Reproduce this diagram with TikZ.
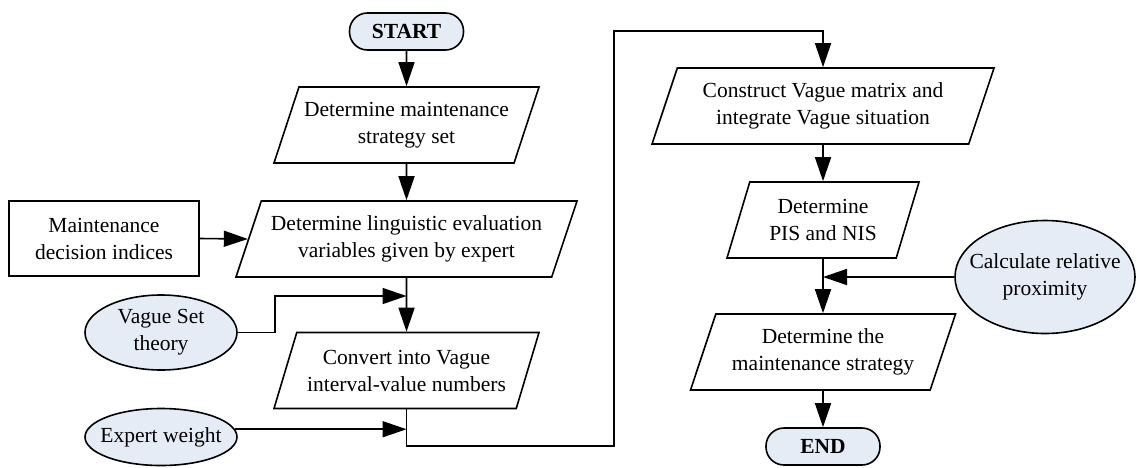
\documentclass[tikz,border=0pt]{standalone}
\usepackage{fontspec}
\setmainfont{Liberation Serif}
\usetikzlibrary{shapes.geometric,arrows.meta}
\definecolor{paleblue}{HTML}{E6ECF6}

\begin{document}
\begin{tikzpicture}[
        x=1pt, y=-1pt,
        font=\fontsize{21.5}{27}\selectfont,
        every node/.style={align=center},
        base/.style={draw=black, line width=1.6pt},
        term/.style={base, rectangle, rounded corners=18pt, fill=paleblue, minimum width=114pt, minimum height=37pt, font=\fontsize{21.5}{27}\selectfont\bfseries},
        proc/.style={base, trapezium, trapezium left angle=63.4, trapezium right angle=116.6, trapezium stretches body, minimum height=76pt, inner sep=2pt},
        plainbox/.style={base, rectangle, minimum width=190pt, minimum height=75pt},
        oval/.style={base, ellipse, fill=paleblue, inner sep=0pt},
        arrow/.style={line width=1.6pt, -{Triangle[length=24pt,width=16pt]}}
    ]
    \useasboundingbox (0,0) rectangle (1137,467);

    % Left column
    \node[term] (start) at (406.5,31.5) {START};
    \node[proc, minimum width=265pt] (b1) at (406.5,125) {Determine maintenance\\strategy set};
    \node[proc, minimum width=341pt] (b2) at (406.5,239) {Determine linguistic evaluation\\variables given by expert};
    \node[proc, minimum width=265pt] (b3) at (406.5,370.5) {Convert into Vague\\interval-value numbers};

    % Inputs
    \node[plainbox] (mdi) at (104,238.5) {Maintenance\\decision indices};
    \node[oval, minimum width=152pt, minimum height=75pt, label={[align=center]center:Vague Set\\theory}] (vst) at (161,332.5) {};
    \node[oval, minimum width=152pt, minimum height=57pt, label={center:Expert weight}] (ew) at (161,437) {};

    % Right column
    \node[proc, minimum width=342pt] (b4) at (823,106) {Construct Vague matrix and\\integrate Vague situation};
    \node[proc, minimum width=192pt] (b5) at (823,220) {Determine\\PIS and NIS};
    \node[oval, minimum width=180pt, minimum height=113pt, label={[align=center]center:Calculate relative\\proximity}] (calc) at (1045,277) {};
    \node[proc, minimum width=265pt] (b6) at (823,352) {Determine the\\maintenance strategy};
    \node[term] (end) at (823,446.5) {END};

    \coordinate (mergeA) at (406.5,296);
    \coordinate (turnA) at (614,446);
    \coordinate (turnB) at (614,31);

    % Connectors
    \draw[arrow] (start) -- (b1);
    \draw[arrow] (b1) -- (b2);
    \draw[arrow] (mdi.east) -- (b2.west);
    \draw[arrow] (b2) -- (b3);
    \draw[arrow] (vst.east) -- ++(37,0) |- (mergeA);
    \draw[arrow] (ew.6) -- (ew.6 -| b3.south);
    \draw[arrow] (b3.south) |- (turnA) -- (turnB) -| (b4.north);
    \draw[arrow] (b4) -- (b5);
    \draw[arrow] (b5) -- (b6);
    \draw[arrow] (calc.west) -- (calc.west -| b5.south);
    \draw[arrow] (b6) -- (end);

\end{tikzpicture}
\end{document}
